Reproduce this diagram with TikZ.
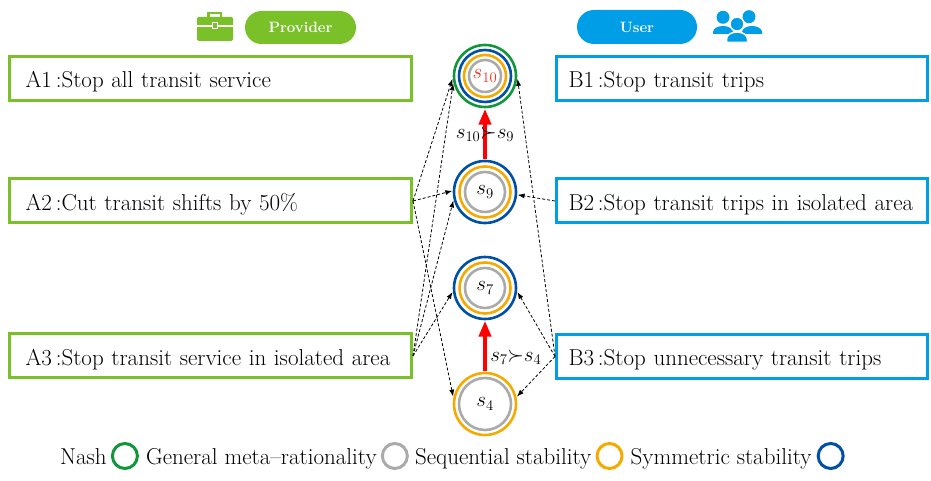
\documentclass[tikz,border=0pt]{standalone}
\usepackage{fix-cm}
\usetikzlibrary{arrows.meta,positioning}
\definecolor{provgreen}{RGB}{122,192,40}
\definecolor{userblue}{RGB}{0,158,230}
\definecolor{nashgreen}{RGB}{18,150,58}
\definecolor{gmrgray}{RGB}{170,170,170}
\definecolor{seqorange}{RGB}{245,170,0}
\definecolor{symblue}{RGB}{0,80,165}
\definecolor{redlabel}{RGB}{240,50,30}
\begin{document}
\begin{tikzpicture}[x=1pt,y=1pt,font=\fontsize{23}{27}\selectfont,
    optbox/.style={draw,line width=3pt,minimum height=44pt,align=left,text height=19pt,text depth=0pt},
    abox/.style={optbox,draw=provgreen,minimum width=402pt,inner xsep=16pt,text width=370pt},
    bbox/.style={optbox,draw=userblue,minimum width=371pt,inner xsep=12pt,text width=347pt},
    sitnode/.style={circle,minimum size=65pt,inner sep=0pt,font=\fontsize{21}{25}\selectfont},
    nashring/.style={draw=nashgreen,line width=2.6pt},
    gmrring/.style={draw=gmrgray,line width=2.6pt},
    seqring/.style={draw=seqorange,line width=2.6pt},
    symring/.style={draw=symblue,line width=2.6pt},
    pill/.style={rounded corners=16.5pt,minimum height=33pt,text=white,font=\fontsize{15}{18}\selectfont\bfseries},
    moveto/.style={dash pattern=on 3pt off 2pt,line width=0.8pt,-{Latex[length=7pt,width=5pt]}},
    prefer/.style={draw=red,line width=4.5pt,-{Triangle[length=16pt,width=12pt]}},
    preflabel/.style={font=\fontsize{21}{25}\selectfont},
    legtext/.style={inner sep=0pt,text height=18pt,text depth=0pt},
    legmark/.style={circle,line width=3pt,minimum size=25pt,inner sep=0pt}]
\useasboundingbox (0,0) rectangle (931,481);

% header
\node[pill,fill=provgreen,minimum width=111pt] (provider) at (300.5,453.5) {Provider};
\node[pill,fill=userblue,minimum width=120pt,minimum height=34pt,rounded corners=17pt] (user) at (637,454) {User};
\fill[provgreen,rounded corners=1.5pt] (197,440) rectangle (233,464);
\draw[provgreen,line width=2.5pt] (208.25,463) -- (208.25,467.75) -- (220.75,467.75) -- (220.75,463);
\draw[white,line width=2pt] (197,455) -- (233,455);
\filldraw[fill=provgreen,draw=white,line width=1pt] (212.5,452) rectangle (217.5,458);
\fill[userblue] (723,463.7) circle[radius=6.5];
\fill[userblue] (749,464.3) circle[radius=6.5];
\fill[userblue] (713,447) -- (713,449) arc[start angle=180,end angle=0,x radius=10,y radius=6] -- (733,447) -- cycle;
\fill[userblue] (742,447) -- (742,449) arc[start angle=180,end angle=0,x radius=10,y radius=6] -- (762,447) -- cycle;
\filldraw[fill=userblue,draw=white,line width=1.5pt] (737,457) circle[radius=7];
\filldraw[fill=userblue,draw=white,line width=1.5pt] (726.5,438.5) -- (726.5,442) arc[start angle=180,end angle=0,x radius=10.5,y radius=7] -- (747.5,438.5) -- cycle;

% options
\node[abox] (A1) at (210.5,402.5) {A1\,:Stop all transit service};
\node[abox] (A2) at (210.5,280) {A2\,:Cut transit shifts by 50\%};
\node[abox] (A3) at (210.5,125) {A3\,:Stop transit service in isolated area};
\node[bbox] (B1) at (742,402.5) {B1\,:Stop transit trips};
\node[bbox] (B2) at (742,280) {B2\,:Stop transit trips in isolated area};
\node[bbox] (B3) at (742,124.5) {B3\,:Stop unnecessary transit trips};

% states
\node[sitnode,text=redlabel] (s10) at (485,405) {$s_{10}$};
\node[sitnode] (s9) at (485,289) {$s_9$};
\node[sitnode] (s7) at (485,193) {$s_7$};
\node[sitnode] (s4) at (485,77) {$s_4$};
\draw[nashring] (s10) circle[radius=31];
\draw[symring] (s10) circle[radius=26];
\draw[seqring] (s10) circle[radius=21];
\draw[gmrring] (s10) circle[radius=16];
\draw[symring] (s9) circle[radius=31];
\draw[seqring] (s9) circle[radius=25.5];
\draw[gmrring] (s9) circle[radius=20];
\draw[symring] (s7) circle[radius=31];
\draw[seqring] (s7) circle[radius=25.5];
\draw[gmrring] (s7) circle[radius=20];
\draw[seqring] (s4) circle[radius=31];
\draw[gmrring] (s4) circle[radius=26];

% moves
\draw[moveto] (A2.east) -- (s9.178);
\draw[moveto] (A2.east) -- (s10.185);
\draw[moveto] (A2.east) -- (s4.167);
\draw[moveto] (A3.east) -- (s7.187);
\draw[moveto] (A3.east) -- (s9.195);
\draw[moveto] (A3.east) -- (s10.193);
\draw[moveto] (B2.west) -- (s9.-5);
\draw[moveto] (B3.west) -- (s7.-7);
\draw[moveto] (B3.west) -- (s4.13);
\draw[moveto] (B3.west) -- (s10.-5);
\draw[prefer] (s9) -- (s10) node[preflabel,midway] {$s_{10}{\succ}s_9$};
\draw[prefer] (s4) -- (s7) node[preflabel,pos=0.28,anchor=west,inner sep=2pt,xshift=1pt] {$s_7{\succ}s_4$};

% legend
\node[legtext,anchor=west] (lgnash) at (60,25) {Nash};
\node[legmark,draw=nashgreen,right=4pt of lgnash] (mknash) {};
\node[legtext,right=7pt of mknash] (lggmr) {General meta--rationality};
\node[legmark,draw=gmrgray,right=4pt of lggmr] (mkgmr) {};
\node[legtext,right=6pt of mkgmr] (lgseq) {Sequential stability};
\node[legmark,draw=seqorange,right=4pt of lgseq] (mkseq) {};
\node[legtext,right=7pt of mkseq] (lgsym) {Symmetric stability};
\node[legmark,draw=symblue,right=5pt of lgsym] (mksym) {};
\end{tikzpicture}
\end{document}
